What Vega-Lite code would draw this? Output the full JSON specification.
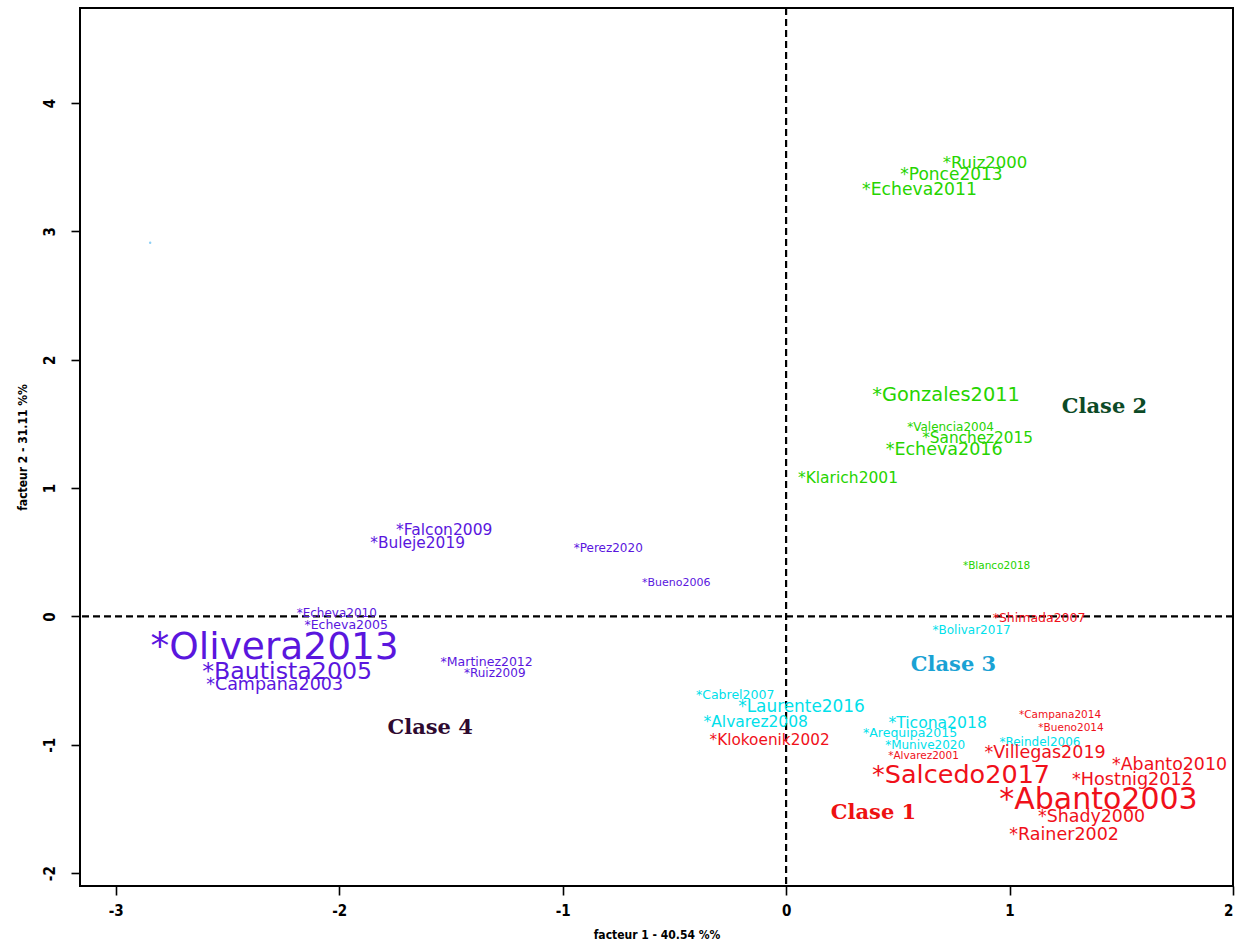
{
  "$schema": "https://vega.github.io/schema/vega-lite/v6.json",
  "autosize": {"type": "none"},
  "padding": {"left": 80, "top": 8, "right": 10, "bottom": 61},
  "width": 1153,
  "height": 878,
  "background": "white",
  "config": {
    "view": {"stroke": "black", "strokeWidth": 2},
    "axis": {
      "grid": false,
      "domain": false,
      "tickColor": "black",
      "tickWidth": 1.6,
      "tickSize": 9,
      "labelColor": "black",
      "labelFont": "DejaVu Sans Condensed, Liberation Sans Narrow, sans-serif",
      "labelFontWeight": "bold",
      "labelFontSize": 15,
      "titleColor": "black",
      "titleFont": "DejaVu Sans Condensed, Liberation Sans Narrow, sans-serif",
      "titleFontWeight": "bold",
      "titleFontSize": 12
    }
  },
  "datasets": {
    "estudios": [
      {"autor": "*Ruiz2000", "f1": 0.890, "f2": 3.535, "clase": "Clase 2", "contrib": 4.125},
      {"autor": "*Ponce2013", "f1": 0.740, "f2": 3.441, "clase": "Clase 2", "contrib": 4.25},
      {"autor": "*Echeva2011", "f1": 0.597, "f2": 3.324, "clase": "Clase 2", "contrib": 4.3},
      {"autor": "*Gonzales2011", "f1": 0.716, "f2": 1.726, "clase": "Clase 2", "contrib": 4.85},
      {"autor": "*Valencia2004", "f1": 0.736, "f2": 1.477, "clase": "Clase 2", "contrib": 3.0},
      {"autor": "*Sanchez2015", "f1": 0.857, "f2": 1.391, "clase": "Clase 2", "contrib": 3.825},
      {"autor": "*Echeva2016", "f1": 0.707, "f2": 1.298, "clase": "Clase 2", "contrib": 4.375},
      {"autor": "*Klarich2001", "f1": 0.277, "f2": 1.080, "clase": "Clase 2", "contrib": 3.875},
      {"autor": "*Blanco2018", "f1": 0.942, "f2": 0.394, "clase": "Clase 2", "contrib": 2.625},
      {"autor": "*Falcon2009", "f1": -1.530, "f2": 0.674, "clase": "Clase 4", "contrib": 3.875},
      {"autor": "*Buleje2019", "f1": -1.649, "f2": 0.573, "clase": "Clase 4", "contrib": 3.85},
      {"autor": "*Perez2020", "f1": -0.796, "f2": 0.534, "clase": "Clase 4", "contrib": 3.0},
      {"autor": "*Bueno2006", "f1": -0.492, "f2": 0.261, "clase": "Clase 4", "contrib": 2.75},
      {"autor": "*Echeva2010", "f1": -2.011, "f2": 0.027, "clase": "Clase 4", "contrib": 3.0},
      {"autor": "*Echeva2005", "f1": -1.969, "f2": -0.066, "clase": "Clase 4", "contrib": 3.125},
      {"autor": "*Olivera2013", "f1": -2.289, "f2": -0.245, "clase": "Clase 4", "contrib": 9.375},
      {"autor": "*Bautista2005", "f1": -2.233, "f2": -0.432, "clase": "Clase 4", "contrib": 5.925},
      {"autor": "*Campana2003", "f1": -2.289, "f2": -0.534, "clase": "Clase 4", "contrib": 4.375},
      {"autor": "*Martinez2012", "f1": -1.340, "f2": -0.355, "clase": "Clase 4", "contrib": 3.125},
      {"autor": "*Ruiz2009", "f1": -1.304, "f2": -0.440, "clase": "Clase 4", "contrib": 3.0},
      {"autor": "*Bolivar2017", "f1": 0.830, "f2": -0.105, "clase": "Clase 3", "contrib": 3.0},
      {"autor": "*Cabrel2007", "f1": -0.228, "f2": -0.612, "clase": "Clase 3", "contrib": 3.125},
      {"autor": "*Laurente2016", "f1": 0.069, "f2": -0.705, "clase": "Clase 3", "contrib": 4.225},
      {"autor": "*Alvarez2008", "f1": -0.136, "f2": -0.822, "clase": "Clase 3", "contrib": 3.875},
      {"autor": "*Ticona2018", "f1": 0.678, "f2": -0.830, "clase": "Clase 3", "contrib": 3.9},
      {"autor": "*Arequipa2015", "f1": 0.555, "f2": -0.908, "clase": "Clase 3", "contrib": 3.125},
      {"autor": "*Munive2020", "f1": 0.622, "f2": -1.002, "clase": "Clase 3", "contrib": 3.0},
      {"autor": "*Reindel2006", "f1": 1.136, "f2": -0.978, "clase": "Clase 3", "contrib": 3.0},
      {"autor": "*Shimada2007", "f1": 1.132, "f2": -0.012, "clase": "Clase 1", "contrib": 3.125},
      {"autor": "*Campana2014", "f1": 1.226, "f2": -0.768, "clase": "Clase 1", "contrib": 2.625},
      {"autor": "*Bueno2014", "f1": 1.275, "f2": -0.869, "clase": "Clase 1", "contrib": 2.625},
      {"autor": "*Klokoenik2002", "f1": -0.074, "f2": -0.962, "clase": "Clase 1", "contrib": 3.825},
      {"autor": "*Alvarez2001", "f1": 0.615, "f2": -1.087, "clase": "Clase 1", "contrib": 2.625},
      {"autor": "*Villegas2019", "f1": 1.159, "f2": -1.064, "clase": "Clase 1", "contrib": 4.375},
      {"autor": "*Abanto2010", "f1": 1.716, "f2": -1.157, "clase": "Clase 1", "contrib": 4.35},
      {"autor": "*Salcedo2017", "f1": 0.783, "f2": -1.235, "clase": "Clase 1", "contrib": 6.375},
      {"autor": "*Hostnig2012", "f1": 1.550, "f2": -1.275, "clase": "Clase 1", "contrib": 4.4},
      {"autor": "*Abanto2003", "f1": 1.398, "f2": -1.431, "clase": "Clase 1", "contrib": 7.5},
      {"autor": "*Shady2000", "f1": 1.367, "f2": -1.563, "clase": "Clase 1", "contrib": 4.35},
      {"autor": "*Rainer2002", "f1": 1.244, "f2": -1.703, "clase": "Clase 1", "contrib": 4.375}
    ],
    "clases": [
      {"etiqueta": "Clase 1", "f1": 0.391, "f2": -1.532},
      {"etiqueta": "Clase 2", "f1": 1.425, "f2": 1.633},
      {"etiqueta": "Clase 3", "f1": 0.749, "f2": -0.378},
      {"etiqueta": "Clase 4", "f1": -1.593, "f2": -0.869}
    ],
    "marca": [
      {"f1": -2.846, "f2": 2.911}
    ],
    "ejes": [
      {"f1": 0, "f2": 0}
    ]
  },
  "encoding": {
    "x": {
      "field": "f1",
      "type": "quantitative",
      "scale": {"domain": [-3.16, 2.0], "nice": false, "zero": false},
      "axis": {
        "values": [-3, -2, -1, 0, 1, 2],
        "labelExpr": "datum.value < 0 ? '-' + abs(datum.value) : '' + datum.value",
        "title": "facteur 1 - 40.54 %%",
        "labelFontSize": 15,
        "labelPadding": 8,
        "titlePadding": 11
      }
    },
    "y": {
      "field": "f2",
      "type": "quantitative",
      "scale": {"domain": [-2.1, 4.74], "nice": false, "zero": false},
      "axis": {
        "values": [-2, -1, 0, 1, 2, 3, 4],
        "labelExpr": "datum.value < 0 ? '-' + abs(datum.value) : '' + datum.value",
        "title": "facteur 2 - 31.11 %%",
        "labelFontSize": 15,
        "labelAngle": -90,
        "labelAlign": "center",
        "labelBaseline": "bottom",
        "labelPadding": 14,
        "titlePadding": 13
      }
    }
  },
  "layer": [
    {
      "data": {"name": "ejes"},
      "mark": {"type": "rule", "color": "black", "strokeWidth": 2.2, "strokeDash": [7, 4]},
      "encoding": {"y": null}
    },
    {
      "data": {"name": "ejes"},
      "mark": {"type": "rule", "color": "black", "strokeWidth": 2.2, "strokeDash": [7, 4]},
      "encoding": {"x": null}
    },
    {
      "data": {"name": "marca"},
      "mark": {"type": "point", "filled": true, "color": "#8fd0f5", "size": 6, "opacity": 1}
    },
    {
      "data": {"name": "estudios"},
      "mark": {"type": "text", "font": "DejaVu Sans", "align": "center", "baseline": "middle"},
      "encoding": {
        "text": {"field": "autor"},
        "color": {
          "field": "clase",
          "type": "nominal",
          "scale": {"domain": ["Clase 1", "Clase 2", "Clase 3", "Clase 4"], "range": ["#f0101a", "#26d400", "#00e0ea", "#5a16de"]},
          "legend": null
        },
        "size": {
          "field": "contrib",
          "type": "quantitative",
          "scale": {"type": "linear", "domain": [0, 10], "range": [0, 40]},
          "legend": null
        }
      }
    },
    {
      "data": {"name": "clases"},
      "mark": {"type": "text", "font": "DejaVu Serif", "fontWeight": "bold", "fontSize": 21, "align": "center", "baseline": "middle"},
      "encoding": {
        "text": {"field": "etiqueta"},
        "color": {
          "field": "etiqueta",
          "type": "nominal",
          "scale": {"domain": ["Clase 1", "Clase 2", "Clase 3", "Clase 4"], "range": ["#ee1111", "#0c4a26", "#1aa2d4", "#2e0a30"]},
          "legend": null
        }
      }
    }
  ],
  "resolve": {"scale": {"color": "independent"}}
}
